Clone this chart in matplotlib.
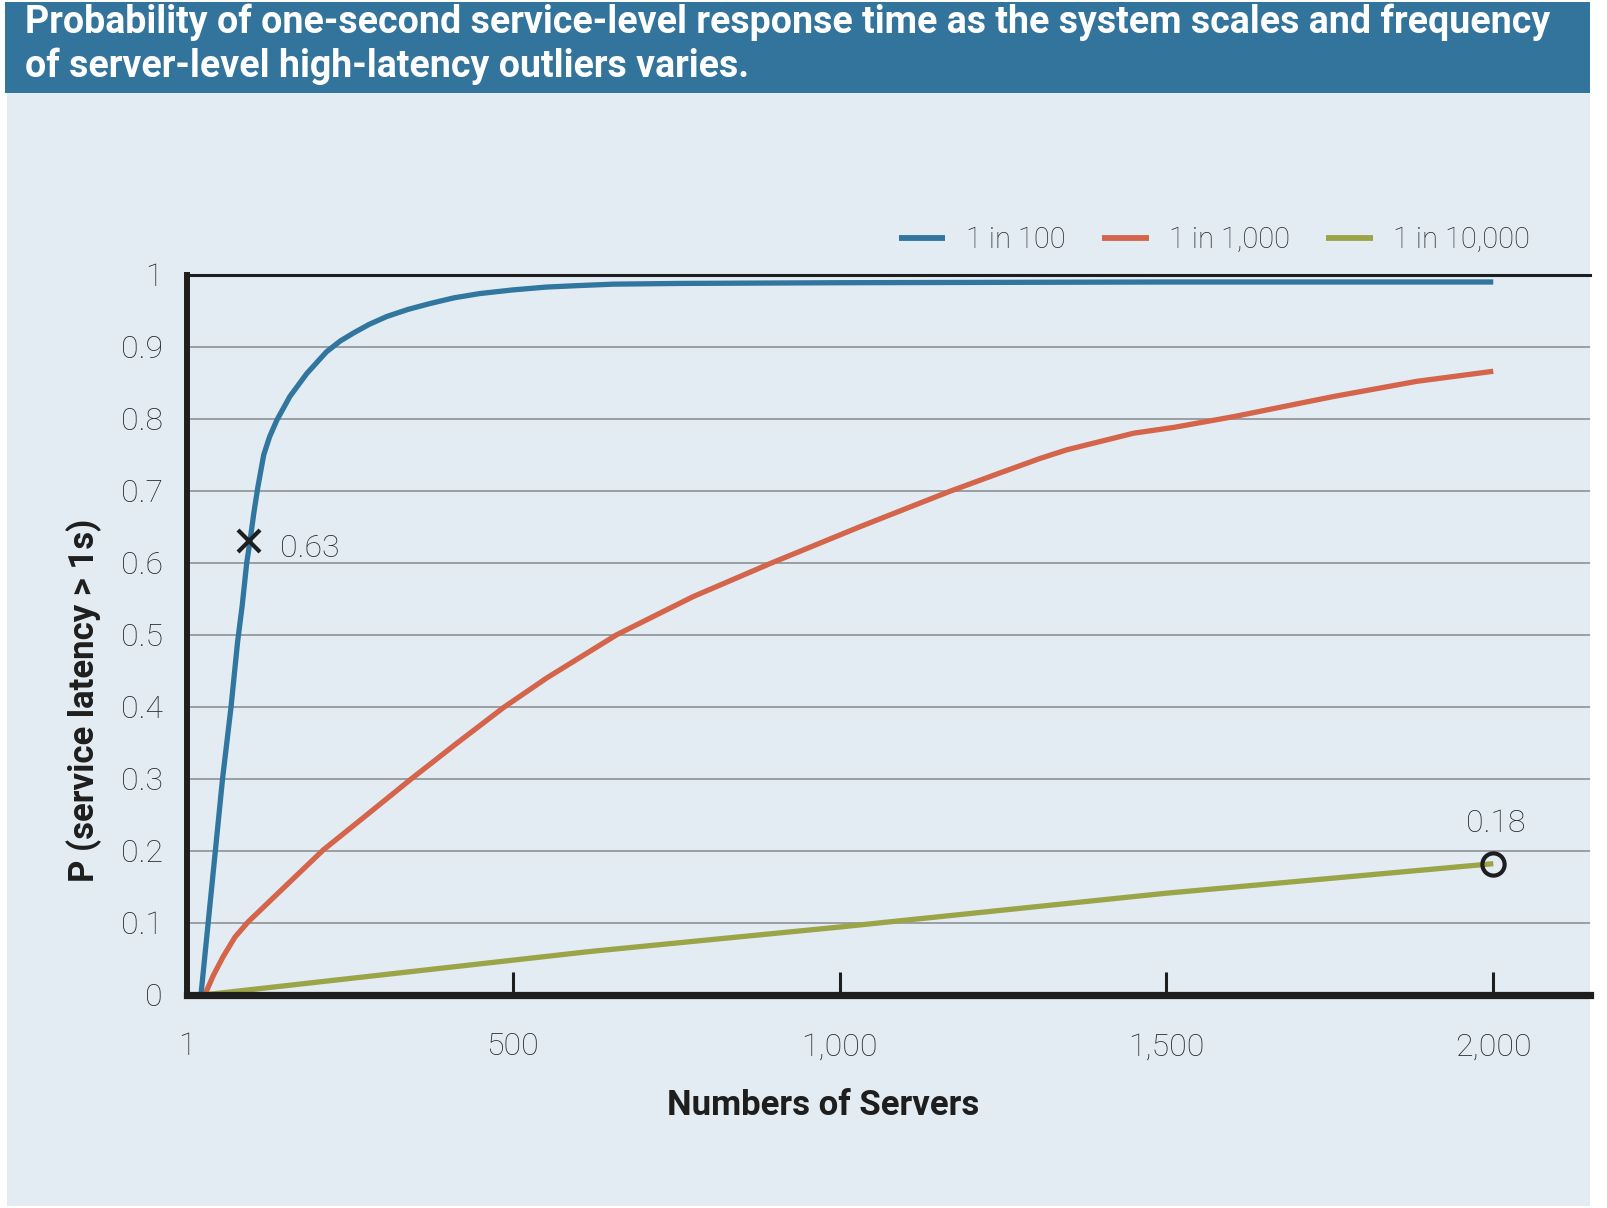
import matplotlib
matplotlib.use("Agg")
import matplotlib.pyplot as plt
from matplotlib.patches import Rectangle

# data
servers_100 = [23, 34, 45, 56, 69, 79, 86, 93, 98, 104, 110, 119, 128, 139, 159, 185, 215, 236,
               256, 280, 307, 340, 373, 410, 450, 500, 552, 600, 654, 756, 1000, 1500, 2000]
p_100 = [0.0, 0.10, 0.20, 0.30, 0.40, 0.49, 0.54, 0.60, 0.63, 0.67, 0.705, 0.75, 0.775, 0.798,
         0.831, 0.863, 0.893, 0.908, 0.919, 0.931, 0.942, 0.952, 0.960, 0.968, 0.974, 0.979,
         0.983, 0.985, 0.987, 0.988, 0.989, 0.990, 0.990]

servers_1000 = [29, 42, 57, 75, 95, 134, 210, 277, 345, 414, 486, 552, 618, 659, 776, 894, 1031,
                1168, 1246, 1307, 1348, 1450, 1511, 1603, 1756, 1883, 2000]
p_1000 = [0.0, 0.027, 0.053, 0.08, 0.101, 0.135, 0.201, 0.25, 0.30, 0.349, 0.399, 0.44, 0.477,
          0.50, 0.553, 0.599, 0.65, 0.699, 0.725, 0.745, 0.757, 0.78, 0.788, 0.803, 0.831, 0.852,
          0.866]

servers_10000 = [30, 618, 1000, 1500, 2000]
p_10000 = [0.0, 0.06, 0.094, 0.141, 0.182]

series_names = ["1 in 100", "1 in 1,000", "1 in 10,000"]
series_colors = ["#30769f", "#d4644a", "#9ba447"]

x_ticks = [1, 500, 1000, 1500, 2000]
x_labels = ["1", "500", "1,000", "1,500", "2,000"]
y_ticks = [0, 0.1, 0.2, 0.3, 0.4, 0.5, 0.6, 0.7, 0.8, 0.9, 1]
y_labels = ["0", "0.1", "0.2", "0.3", "0.4", "0.5", "0.6", "0.7", "0.8", "0.9", "1"]

cross_pt = (97, 0.63)
circle_pt = (2000, 0.182)

title = ("Probability of one-second service-level response time as the system scales and frequency\n"
         "of server-level high-latency outliers varies.")

plt.rcParams["font.family"] = ["Roboto", "DejaVu Sans"]
txt_col = "#2a2a2a"

W, H = 1608, 1208
fig = plt.figure(figsize=(W / 100, H / 100), dpi=100, facecolor="white")

# light panel and title banner
fig.patches.append(Rectangle((7 / W, 1 - 1206 / H), (1590 - 7) / W, (1206 - 93) / H,
                             transform=fig.transFigure, facecolor="#e3ecf3", edgecolor="none", zorder=-10))
fig.patches.append(Rectangle((5 / W, 1 - 93 / H), (1590 - 5) / W, (93 - 2) / H,
                             transform=fig.transFigure, facecolor="#33749c", edgecolor="none", zorder=-10))
lines = title.split("\n")
fig.text(25 / W, 1 - 33 / H, lines[0], color="white", fontsize=27, fontweight="bold",
         va="baseline", ha="left")
fig.text(25 / W, 1 - 77 / H, lines[1], color="white", fontsize=27, fontweight="bold",
         va="baseline", ha="left")

ax = fig.add_axes([186.6 / W, 1 - 994.7 / H, (1590 - 186.6) / W, 719.9 / H])
ax.set_facecolor("none")
ax.set_zorder(1)

ax.plot(servers_100, p_100, color=series_colors[0], lw=3.8, label=series_names[0],
        solid_capstyle="butt", solid_joinstyle="round", zorder=3)
ax.plot(servers_1000, p_1000, color=series_colors[1], lw=3.8, label=series_names[1],
        solid_capstyle="butt", solid_joinstyle="round", zorder=3)
ax.plot(servers_10000, p_10000, color=series_colors[2], lw=3.8, label=series_names[2],
        solid_capstyle="butt", solid_joinstyle="round", zorder=3)

# markers and their values
ax.plot([cross_pt[0]], [cross_pt[1]], marker="x", ms=16, mew=3, color="#1e1e1e",
        linestyle="none", zorder=5)
ax.text(144, 0.608, "0.63", fontsize=23, fontweight="light", color=txt_col,
        ha="left", va="baseline")
ax.plot([circle_pt[0]], [circle_pt[1]], marker="o", ms=16, mew=3, mfc="none", mec="#1e1e1e",
        linestyle="none", zorder=5)
ax.text(2004, 0.2264, "0.18", fontsize=23, fontweight="light", color=txt_col,
        ha="center", va="baseline")

ax.set_xlim(1, 2148)
ax.set_ylim(0, 1)

ax.set_xticks(x_ticks, labels=x_labels)
ax.set_yticks(y_ticks, labels=y_labels)
ax.tick_params(axis="x", direction="in", length=16.5, width=2.2, color="#1e1e1e", pad=27,
               labelsize=23, labelcolor=txt_col)
ax.tick_params(axis="y", length=0, pad=17, labelsize=23, labelcolor=txt_col)
for lab in ax.get_xticklabels() + ax.get_yticklabels():
    lab.set_fontweight("light")
ax.xaxis.get_major_ticks()[0].tick1line.set_visible(False)

ax.yaxis.grid(True, color="#85898d", lw=1.1)
ax.set_axisbelow(True)

ax.spines["right"].set_visible(False)
ax.spines["left"].set_linewidth(4.3)
ax.spines["bottom"].set_linewidth(5.2)
ax.spines["top"].set_linewidth(2.2)
for s in ["left", "bottom", "top"]:
    ax.spines[s].set_color("#1e1e1e")
    ax.spines[s].set_zorder(4)

ax.set_ylabel("P (service latency > 1s)", fontsize=25, fontweight="bold", color="#1e1e1e")
ax.yaxis.label.set_va("center")
ax.yaxis.set_label_coords(-0.0731, 0.409)
ax.set_xlabel("Numbers of Servers", fontsize=25, fontweight="bold", color="#1e1e1e")
ax.xaxis.label.set_va("center")
ax.xaxis.set_label_coords(0.4538, -0.154)

leg = ax.legend(loc="center right", bbox_to_anchor=(0.9575, 1.048), ncol=3, frameon=False,
                handlelength=1.6, handletextpad=0.7, columnspacing=1.25, borderpad=0,
                borderaxespad=0, prop={"size": 21, "weight": "light"})
for t in leg.get_texts():
    t.set_color(txt_col)
for h in leg.get_lines():
    h.set_linewidth(4.2)

fig.savefig("out.png", dpi=100, facecolor="white")
